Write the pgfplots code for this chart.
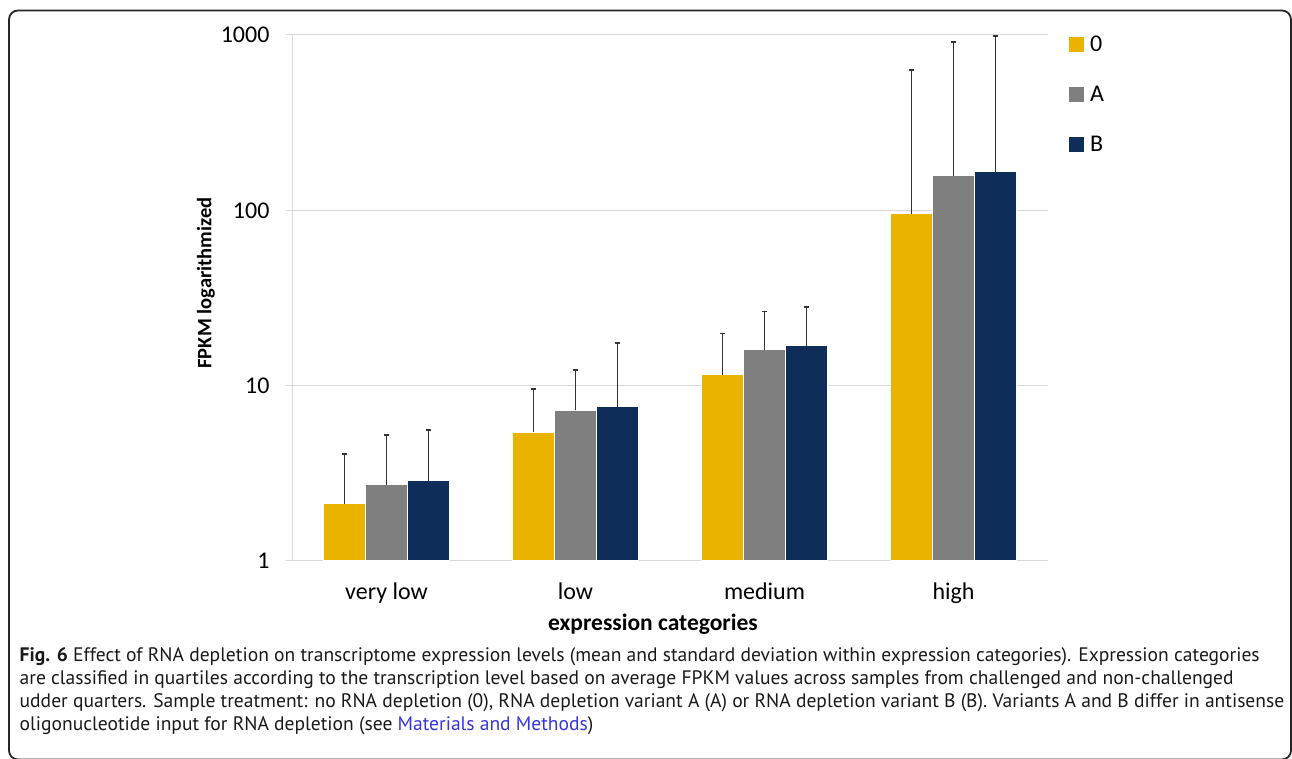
\documentclass[border=0pt]{standalone}
\usepackage{fontspec}
\setmainfont{Carlito}
\newfontfamily\capfont{PT Sans}
\usepackage{pgfplots}
\pgfplotsset{compat=1.18}
\definecolor{cyel}{HTML}{EAB300}
\definecolor{cgry}{HTML}{7F7F7F}
\definecolor{cnav}{HTML}{0E2D58}
\definecolor{axg}{HTML}{D9D9D9}
\definecolor{errc}{HTML}{333333}
\definecolor{lnk}{HTML}{3535E0}
\newlength\capw
\newsavebox\capbox
\begin{document}%
\sbox\capbox{\capfont\fontsize{10pt}{12pt}\selectfont\textbf{Fig. 6} Effect of RNA depletion on transcriptome expression levels (mean and standard deviation within expression categories). Expression categories}%
\setlength\capw{\wd\capbox}%
\pgfmathsetmacro\capsz{10*1240/\capw}%
\begin{tikzpicture}[x=1pt,y=1pt]
\useasboundingbox (0,0) rectangle (1292,759);
\draw[line width=1.8pt, black!85, rounded corners=9pt] (9,-0.5) rectangle (1291,748.5);
\begin{axis}[
  at={(292pt,198pt)}, anchor=south west,
  scale only axis, width=756pt, height=526pt,
  ymode=log, ymin=1, ymax=1000, xmin=-0.5, xmax=3.5,
  axis x line*=bottom, axis y line*=left,
  axis line style={axg, line width=1pt, -},
  ytick={1,10,100,1000}, yticklabels={1,10,100,1000}, yminorticks=false,
  ymajorgrids, grid style={axg, line width=1pt},
  major tick length=6pt, tick align=outside,
  y tick style={axg, line width=1pt},
  xtick={0,1,2,3}, xticklabels={very low,low,medium,high},
  x tick style={draw=none},
  /pgf/number format/assume math mode=true,
  ticklabel style={font=\fontsize{24}{28}\selectfont, text=black},
  xticklabel style={yshift=-12pt},
  yticklabel style={xshift=-13pt},
  ylabel={FPKM logarithmized},
  ylabel style={font=\bfseries\fontsize{20.5}{24}\selectfont, at={(axis description cs:-0.1138,0.5285)}, anchor=center},
  xlabel={expression categories},
  xlabel style={font=\bfseries\fontsize{23.5}{28}\selectfont, at={(axis description cs:0.4775,-0.12)}, anchor=center},
  ybar=0pt, bar width=42pt,
  error bars/y dir=plus, error bars/y explicit,
  error bars/error bar style={errc, line width=1.6pt},
  error bars/error mark options={rotate=90, mark size=2.5pt, line width=1.6pt, errc},
  legend style={at={(rel axis cs:1.0238,1.0057)}, anchor=north west, draw=none, fill=none,
    font=\fontsize{24}{28}\selectfont, row sep=29pt, column sep=4pt},
  legend cell align=left,
  legend image code/.code={\fill[#1, draw=none] (0pt,-7.5pt) rectangle (15pt,7.5pt);},
]
\addplot[fill=cyel, draw=white, line width=1pt] coordinates {
  (0,2.115) +- (0,1.96)
  (1,5.44) +- (0,4.10)
  (2,11.51) +- (0,8.29)
  (3,95.4) +- (0,537)
};
\addplot[fill=cgry, draw=white, line width=1pt] coordinates {
  (0,2.725) +- (0,2.51)
  (1,7.24) +- (0,5.05)
  (2,16.05) +- (0,10.38)
  (3,157) +- (0,753)
};
\addplot[fill=cnav, draw=white, line width=1pt] coordinates {
  (0,2.86) +- (0,2.73)
  (1,7.59) +- (0,9.87)
  (2,16.85) +- (0,11.27)
  (3,166) +- (0,818)
};
\legend{0,A,B}
\end{axis}
\begin{scope}[every node/.style={anchor=base west, inner sep=0pt, text=black!90}, font=\capfont\fontsize{\capsz pt}{22.8pt}\selectfont]
\node at (19.5,97) {\textbf{Fig. 6} Effect of RNA depletion on transcriptome expression levels (mean and standard deviation within expression categories). Expression categories};
\node at (19.5,74) {are classified in quartiles according to the transcription level based on average FPKM values across samples from challenged and non-challenged};
\node at (19.5,51.3) {udder quarters. Sample treatment: no RNA depletion (0), RNA depletion variant A (A) or RNA depletion variant B (B). Variants A and B differ in antisense};
\node at (19.5,28.5) {oligonucleotide input for RNA depletion (see \textcolor{lnk}{Materials and Methods})};
\end{scope}
\end{tikzpicture}
\end{document}
